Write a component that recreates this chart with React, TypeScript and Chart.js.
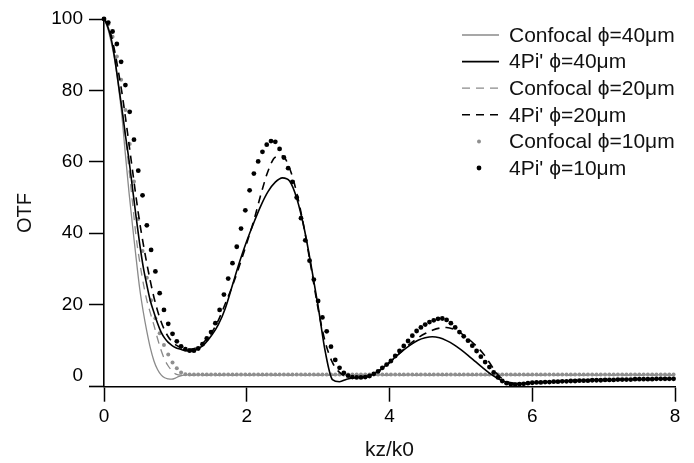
import { useEffect, useRef } from 'react';
import { Chart, registerables } from 'chart.js';

Chart.register(...registerables);

// ---- axes ----
const X_TICKS = [0, 2, 4, 6, 8];
const Y_TICKS = [0, 20, 40, 60, 80, 100];
const X_MIN = 0;
const X_MAX = 8;
const Y_MIN = -3;
const Y_MAX = 100;

// ---- line series (shared kz grid) ----
const KZ_LINE = [
  0, 0.05, 0.1, 0.15, 0.2, 0.25, 0.3, 0.35, 0.4, 0.45,
  0.5, 0.55, 0.6, 0.65, 0.7, 0.75, 0.8, 0.85, 0.9, 0.95,
  1, 1.05, 1.1, 1.15, 1.2, 1.25, 1.3, 1.35, 1.4, 1.45,
  1.5,
  1.6, 1.7, 1.8, 1.9, 2, 2.1, 2.2, 2.3, 2.4, 2.5,
  2.6, 2.7, 2.8, 2.9, 3, 3.1, 3.2, 3.3, 3.4, 3.5,
  3.6, 3.7, 3.8, 3.9, 4, 4.1, 4.2, 4.3, 4.4, 4.5,
  4.6, 4.7, 4.8, 4.9, 5, 5.1, 5.2, 5.3, 5.4, 5.5,
  5.6, 5.7, 5.8, 5.9, 6,
  6.5, 7, 7.5, 8,
];

const CONFOCAL_40 = [
  100, 97.5, 93.5, 88.5, 81.5, 73, 62, 51.5, 42, 33,
  24.5, 18, 12.5, 7.8, 4.2, 1.8, 0.3, -0.5, -0.8, -0.9,
  -0.6, -0.1, 0.2, 0.3, 0.3, 0.3, 0.3, 0.3, 0.3, 0.3,
  0.3,
  0.3, 0.3, 0.3, 0.3, 0.3, 0.3, 0.3, 0.3, 0.3, 0.3,
  0.3, 0.3, 0.3, 0.3, 0.3, 0.3, 0.3, 0.3, 0.3, 0.3,
  0.3, 0.3, 0.3, 0.3, 0.3, 0.3, 0.3, 0.3, 0.3, 0.3,
  0.3, 0.3, 0.3, 0.3, 0.3, 0.3, 0.3, 0.3, 0.3, 0.3,
  0.3, 0.3, 0.3, 0.3, 0.3,
  0.3, 0.3, 0.3, 0.3,
];

const PI4_40 = [
  100, 98, 94.5, 89, 82, 75, 67.5, 60.5, 52.5, 44.5,
  37, 30.5, 25.5, 21, 17.8, 14.8, 12.3, 10.6, 9.4, 8.6,
  8, 7.6, 7.3, 7.1, 7, 7.1, 7.4, 8, 8.8, 9.9,
  11.2,
  14.3, 19, 25.5, 32, 37.8, 43, 47.8, 51.7, 54.3, 55.5,
  54.6, 49.8, 41.8, 31.2, 19.5, 6.8, -1, -1.6, -0.9, -0.5,
  -0.3, 0, 0.8, 2.2, 3.9, 5.6, 7.3, 8.8, 10, 10.7,
  11, 10.7, 9.9, 8.8, 7.4, 5.8, 4.1, 2.4, 0.8, -0.5,
  -1.5, -2, -2.1, -2, -1.9,
  -1.4, -1.1, -0.9, -0.8,
];

const CONFOCAL_20 = [
  100, 98, 94.5, 89.5, 83, 75.5, 67, 58, 48.5, 39,
  32, 26, 21.2, 17.6, 14.2, 10.5, 7.2, 4.6, 2.8, 1.5,
  0.6, 0.3, 0.2, 0.2, 0.2, 0.2, 0.2, 0.2, 0.2, 0.2,
  0.2,
  0.2, 0.2, 0.2, 0.2, 0.2, 0.2, 0.2, 0.2, 0.2, 0.2,
  0.2, 0.2, 0.2, 0.2, 0.2, 0.2, 0.2, 0.2, 0.2, 0.2,
  0.2, 0.2, 0.2, 0.2, 0.2, 0.2, 0.2, 0.2, 0.2, 0.2,
  0.2, 0.2, 0.2, 0.2, 0.2, 0.2, 0.2, 0.2, 0.2, 0.2,
  0.2, 0.2, 0.2, 0.2, 0.2,
  0.2, 0.2, 0.2, 0.2,
];

const PI4_20 = [
  100, 98.5, 95.5, 91, 85.5, 79.5, 72.5, 65, 57.5, 50,
  43, 37, 31.5, 26.5, 22, 18.3, 15.2, 12.8, 11, 9.7,
  8.8, 8.2, 7.8, 7.6, 7.5, 7.6, 8, 8.6, 9.5, 10.6,
  11.9,
  15.5, 20.3, 25.3, 31, 37.2, 43.6, 51, 57.5, 61.3, 61.6,
  58.2, 51.3, 41.8, 30.5, 18.8, 9.5, 3.8, 1, -0.2, -0.5,
  -0.5, -0.2, 0.7, 2.1, 3.7, 5.6, 7.5, 9.2, 10.7, 11.9,
  12.8, 13.4, 13.6, 13.1, 12, 10.5, 8.7, 6.6, 3.8, 0.8,
  -1.1, -1.9, -2.2, -2.1, -1.9,
  -1.4, -1.1, -0.9, -0.8,
];

// ---- dotted series (shared kz grid) ----
const KZ_DOT = [
  0, 0.06, 0.12, 0.18, 0.24, 0.3, 0.36, 0.42, 0.48, 0.54,
  0.6, 0.66, 0.72, 0.78, 0.84, 0.9, 0.96, 1.02, 1.08, 1.14,
  1.2, 1.26, 1.32, 1.38, 1.44, 1.5, 1.56, 1.62, 1.68, 1.74,
  1.8, 1.86, 1.92, 1.98, 2.04, 2.1, 2.16, 2.22, 2.28, 2.34,
  2.4, 2.46, 2.52, 2.58, 2.64, 2.7, 2.76, 2.82, 2.88, 2.94,
  3, 3.06, 3.12, 3.18, 3.24, 3.3, 3.36, 3.42, 3.48, 3.54,
  3.6, 3.66, 3.72, 3.78, 3.84, 3.9, 3.96, 4.02, 4.08, 4.14,
  4.2, 4.26, 4.32, 4.38, 4.44, 4.5, 4.56, 4.62, 4.68, 4.74,
  4.8, 4.86, 4.92, 4.98, 5.04, 5.1, 5.16, 5.22, 5.28, 5.34,
  5.4, 5.46, 5.52, 5.58, 5.64, 5.7, 5.76, 5.82, 5.88, 5.94,
  6, 6.06, 6.12, 6.18, 6.24, 6.3, 6.36, 6.42, 6.48, 6.54,
  6.6, 6.66, 6.72, 6.78, 6.84, 6.9, 6.96, 7.02, 7.08, 7.14,
  7.2, 7.26, 7.32, 7.38, 7.44, 7.5, 7.56, 7.62, 7.68, 7.74,
  7.8, 7.86, 7.92, 7.98,
];

const CONFOCAL_10 = [
  100, 98.5, 95, 89.5, 83, 74.5, 65, 54.5, 44, 35,
  27.5, 21.2, 16.2, 12, 8.7, 6, 3.8, 2.2, 1, 0.5,
  0.4, 0.4, 0.4, 0.4, 0.4, 0.4, 0.4, 0.4, 0.4, 0.4,
  0.4, 0.4, 0.4, 0.4, 0.4, 0.4, 0.4, 0.4, 0.4, 0.4,
  0.4, 0.4, 0.4, 0.4, 0.4, 0.4, 0.4, 0.4, 0.4, 0.4,
  0.4, 0.4, 0.4, 0.4, 0.4, 0.4, 0.4, 0.4, 0.4, 0.4,
  0.4, 0.4, 0.4, 0.4, 0.4, 0.4, 0.4, 0.4, 0.4, 0.4,
  0.4, 0.4, 0.4, 0.4, 0.4, 0.4, 0.4, 0.4, 0.4, 0.4,
  0.4, 0.4, 0.4, 0.4, 0.4, 0.4, 0.4, 0.4, 0.4, 0.4,
  0.4, 0.4, 0.4, 0.4, 0.4, 0.4, 0.4, 0.4, 0.4, 0.4,
  0.4, 0.4, 0.4, 0.4, 0.4, 0.4, 0.4, 0.4, 0.4, 0.4,
  0.4, 0.4, 0.4, 0.4, 0.4, 0.4, 0.4, 0.4, 0.4, 0.4,
  0.4, 0.4, 0.4, 0.4, 0.4, 0.4, 0.4, 0.4, 0.4, 0.4,
  0.4, 0.4, 0.4, 0.4,
];

const PI4_10 = [
  100, 99, 96.5, 93, 88, 81.5, 74, 66.2, 57.5, 50.6,
  42.2, 35.3, 29.3, 23.2, 18.5, 14.6, 11.8, 9.7, 8.3, 7.5,
  7.1, 7.1, 7.7, 8.9, 10.5, 12.3, 14.8, 18.5, 22.8, 27.3,
  31.6, 36.2, 41.3, 46.4, 52, 56.7, 60.1, 62.8, 64.8, 65.8,
  65.6, 63.6, 61.2, 58.2, 54.4, 50, 44.2, 38, 32.3, 27,
  21, 16.4, 12.5, 8.2, 4.5, 2.3, 0.9, 0.1, -0.3, -0.4,
  -0.4, -0.3, 0, 0.6, 1.3, 2.3, 3.2, 4.2, 5.6, 7,
  8.4, 9.8, 11.3, 12.6, 13.6, 14.4, 15.1, 15.6, 16, 16.1,
  15.7, 14.8, 13.6, 12.3, 11.1, 9.9, 8.5, 7, 5.4, 3.9,
  2.5, 1, -0.4, -1.4, -2, -2.3, -2.4, -2.3, -2.2, -2,
  -1.9, -1.8, -1.8, -1.7, -1.7, -1.6, -1.6, -1.5, -1.5, -1.4,
  -1.4, -1.3, -1.3, -1.3, -1.2, -1.2, -1.2, -1.1, -1.1, -1.1,
  -1, -1, -1, -1, -0.9, -0.9, -0.9, -0.9, -0.9, -0.8,
  -0.8, -0.8, -0.8, -0.8,
];

const SERIES_LABELS = [
  'Confocal ϕ=40μm',
  "4Pi' ϕ=40μm",
  'Confocal ϕ=20μm',
  "4Pi' ϕ=20μm",
  'Confocal ϕ=10μm',
  "4Pi' ϕ=10μm",
];

// ---- styles ----
const FONT = "'Liberation Sans', Arial, sans-serif";
const GRAY = '#8a8a8a';
const BLACK = '#000000';
const DASH = [8, 6];

const toPoints = (xs: number[], ys: number[]) => xs.map((x, i) => ({ x, y: ys[i] }));

const overlayPlugin = {
  id: 'otfOverlay',
  afterDraw(chart: any) {
    const ctx = chart.ctx as CanvasRenderingContext2D;
    ctx.save();
    ctx.font = `21px ${FONT}`;
    ctx.textBaseline = 'middle';
    chart.data.datasets.forEach((ds: any, i: number) => {
      const y = 35 + i * 26.6;
      if (ds.showLine === false) {
        ctx.beginPath();
        ctx.fillStyle = ds.pointBackgroundColor;
        ctx.arc(479, y, ds.pointRadius, 0, Math.PI * 2);
        ctx.fill();
      } else {
        ctx.beginPath();
        ctx.setLineDash(ds.borderDash || []);
        ctx.strokeStyle = ds.borderColor;
        ctx.lineWidth = ds.borderWidth;
        ctx.moveTo(462, y);
        ctx.lineTo(499, y);
        ctx.stroke();
        ctx.setLineDash([]);
      }
      ctx.fillStyle = '#111';
      ctx.textAlign = 'left';
      ctx.fillText(ds.label, 509, y + 1);
    });
    // y-axis title
    ctx.font = `20px ${FONT}`;
    ctx.translate(25, 213);
    ctx.rotate(-Math.PI / 2);
    ctx.textAlign = 'center';
    ctx.fillStyle = '#111';
    ctx.fillText('OTF', 0, 0);
    ctx.restore();
  },
};

export default function App() {
  const canvasRef = useRef<HTMLCanvasElement | null>(null);

  useEffect(() => {
    if (!canvasRef.current) return;
    const lineDs = (label: string, ys: number[], color: string, width: number, dash: number[], order: number) => ({
      label,
      data: toPoints(KZ_LINE, ys),
      borderColor: color,
      borderWidth: width,
      borderDash: dash,
      pointRadius: 0,
      fill: false,
      cubicInterpolationMode: 'monotone',
      clip: false,
      order,
    });
    const dotDs = (label: string, ys: number[], color: string, radius: number, order: number) => ({
      label,
      data: toPoints(KZ_DOT, ys),
      showLine: false,
      pointRadius: radius,
      pointBackgroundColor: color,
      pointBorderWidth: 0,
      borderColor: color,
      clip: false,
      order,
    });

    const chart = new Chart(canvasRef.current, {
      type: 'line',
      data: {
        datasets: [
          lineDs(SERIES_LABELS[0], CONFOCAL_40, GRAY, 1.3, [], 6),
          lineDs(SERIES_LABELS[1], PI4_40, BLACK, 1.6, [], 3),
          lineDs(SERIES_LABELS[2], CONFOCAL_20, GRAY, 1.3, DASH, 5),
          lineDs(SERIES_LABELS[3], PI4_20, BLACK, 1.6, DASH, 2),
          dotDs(SERIES_LABELS[4], CONFOCAL_10, '#8f8f8f', 2.0, 4),
          dotDs(SERIES_LABELS[5], PI4_10, BLACK, 2.4, 1),
        ] as any,
      },
      options: {
        animation: false,
        responsive: false,
        maintainAspectRatio: false,
        devicePixelRatio: 1,
        layout: { padding: { left: 0, right: 19, top: 19, bottom: 0 } },
        plugins: { legend: { display: false }, tooltip: { enabled: false } },
        events: [],
        scales: {
          x: {
            type: 'linear',
            position: 'bottom',
            min: X_MIN,
            max: X_MAX,
            afterBuildTicks: (s: any) => {
              s.ticks = X_TICKS.map((v) => ({ value: v }));
            },
            afterFit: (s: any) => {
              s.height = 76.3;
            },
            grid: {
              display: true,
              drawOnChartArea: false,
              drawTicks: true,
              tickLength: 15,
              tickColor: '#000',
              tickWidth: 1.5,
            },
            border: { display: true, color: '#000', width: 1.6 },
            ticks: {
              color: '#000',
              font: { family: FONT, size: 19 },
              padding: 4,
              maxRotation: 0,
            },
            title: {
              display: true,
              text: 'kz/k0',
              color: '#111',
              font: { family: FONT, size: 21 },
              padding: { top: 0, bottom: 0 },
            },
          },
          y: {
            type: 'linear',
            position: 'left',
            min: Y_MIN,
            max: Y_MAX,
            afterBuildTicks: (s: any) => {
              // the bottom-edge tick extends the x axis to the left of the y axis
              s.ticks = [Y_MIN, ...Y_TICKS].map((v) => ({ value: v }));
            },
            afterFit: (s: any) => {
              s.width = 104;
            },
            grid: {
              display: true,
              drawOnChartArea: false,
              drawTicks: true,
              tickLength: 15,
              tickColor: (c: any) => (c.tick && c.tick.value === 0 ? 'rgba(0,0,0,0)' : '#000'),
              tickWidth: (c: any) => (c.tick && c.tick.value === Y_MIN ? 1.6 : 1.5),
            },
            border: { display: true, color: '#000', width: 1.6 },
            ticks: {
              color: '#000',
              font: { family: FONT, size: 19 },
              padding: 6,
              callback: (v: any) => (v === Y_MIN ? '' : String(v)),
            },
          },
        },
      } as any,
      plugins: [overlayPlugin],
    });
    return () => chart.destroy();
  }, []);

  return (
    <div style={{ position: 'fixed', left: 0, top: 0, width: 694, height: 463, background: '#fff' }}>
      <canvas ref={canvasRef} width={694} height={463} style={{ width: 694, height: 463, display: 'block' }} />
    </div>
  );
}
